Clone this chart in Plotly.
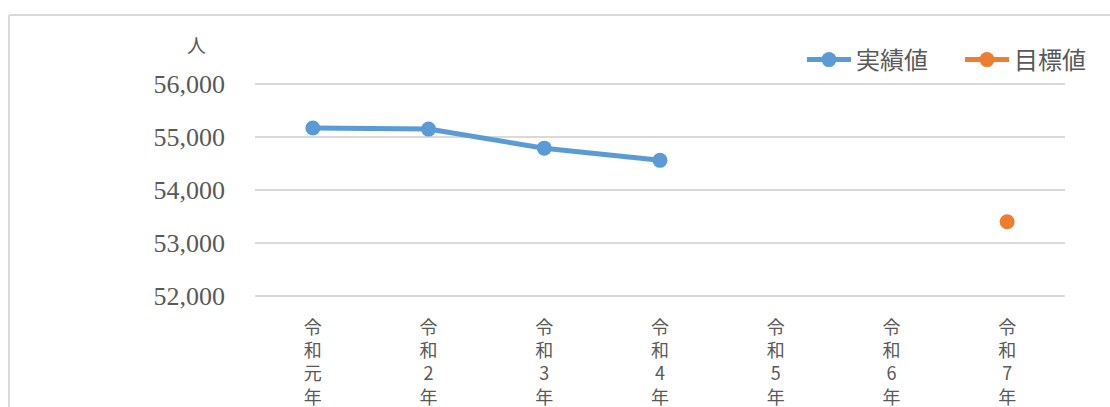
import plotly.graph_objects as go

categories = ["令和元年", "令和2年", "令和3年", "令和4年", "令和5年", "令和6年", "令和7年"]
actual_values = [55170, 55150, 54790, 54560, None, None, None]
target_values = [None, None, None, None, None, None, 53400]
y_ticks = [52000, 53000, 54000, 55000, 56000]
y_tick_labels = ["52,000", "53,000", "54,000", "55,000", "56,000"]
series_names = ["実績値", "目標値"]
unit_label = "人"

vertical_labels = ["<br>".join(list(c)) for c in categories]

W, H = 1110, 407
L, R, T, B = 255, 45, 83, 110
pw, ph = W - L - R, H - T - B

gray = "#595959"
fig = go.Figure()
fig.add_trace(go.Scatter(
    x=categories, y=actual_values, name=series_names[0], mode="lines+markers",
    line=dict(color="#5B9BD5", width=5), marker=dict(size=15, color="#5B9BD5"),
    connectgaps=False,
))
fig.add_trace(go.Scatter(
    x=categories, y=target_values, name=series_names[1], mode="lines+markers",
    line=dict(color="#ED7D31", width=5), marker=dict(size=15, color="#ED7D31"),
))

def px_x(px):
    return (px - L) / pw

def px_y(py):
    return (H - B - py) / ph

fig.update_layout(
    width=W, height=H,
    margin=dict(l=L, r=R, t=T, b=B, pad=0, autoexpand=False),
    paper_bgcolor="white", plot_bgcolor="white",
    showlegend=True,
    legend=dict(
        orientation="h", x=px_x(802), xanchor="left", y=px_y(60), yanchor="middle",
        font=dict(family="Noto Sans CJK JP", size=24, color=gray),
        bgcolor="rgba(0,0,0,0)", itemwidth=44,
        entrywidth=99, entrywidthmode="pixels",
    ),
    xaxis=dict(
        type="category", categoryorder="array", categoryarray=categories,
        tickvals=categories, ticktext=vertical_labels,
        tickfont=dict(family="Noto Sans CJK JP", size=18, color=gray),
        showgrid=False, zeroline=False, showline=False, automargin=False,
        ticks="outside", ticklen=14, tickcolor="rgba(0,0,0,0)",
        tickangle=0, range=[-0.5, 6.5], fixedrange=True,
    ),
    yaxis=dict(
        range=[51980, 56020], tickvals=y_ticks, ticktext=y_tick_labels,
        tickfont=dict(family="Liberation Serif", size=26, color=gray),
        showgrid=True, gridcolor="#d9d9d9", gridwidth=2, automargin=False,
        zeroline=False, showline=False, ticks="", ticklabelstandoff=29,
    ),
    annotations=[dict(
        text=unit_label, xref="paper", yref="paper", x=px_x(196), y=px_y(44),
        xanchor="center", yanchor="middle", showarrow=False,
        font=dict(family="Noto Sans CJK JP", size=19, color=gray),
    )],
    shapes=[
        dict(type="line", xref="paper", yref="paper", x0=px_x(9), x1=px_x(9),
             y0=px_y(420), y1=px_y(15), line=dict(color="#d9d9d9", width=2)),
        dict(type="line", xref="paper", yref="paper", x0=px_x(9), x1=px_x(1120),
             y0=px_y(15), y1=px_y(15), line=dict(color="#d9d9d9", width=2)),
    ],
)

fig.write_html(
    "out.html",
    config={"displayModeBar": False},
    post_script="document.body.style.margin='0';document.body.style.overflow='hidden';document.documentElement.style.overflow='hidden';",
)
